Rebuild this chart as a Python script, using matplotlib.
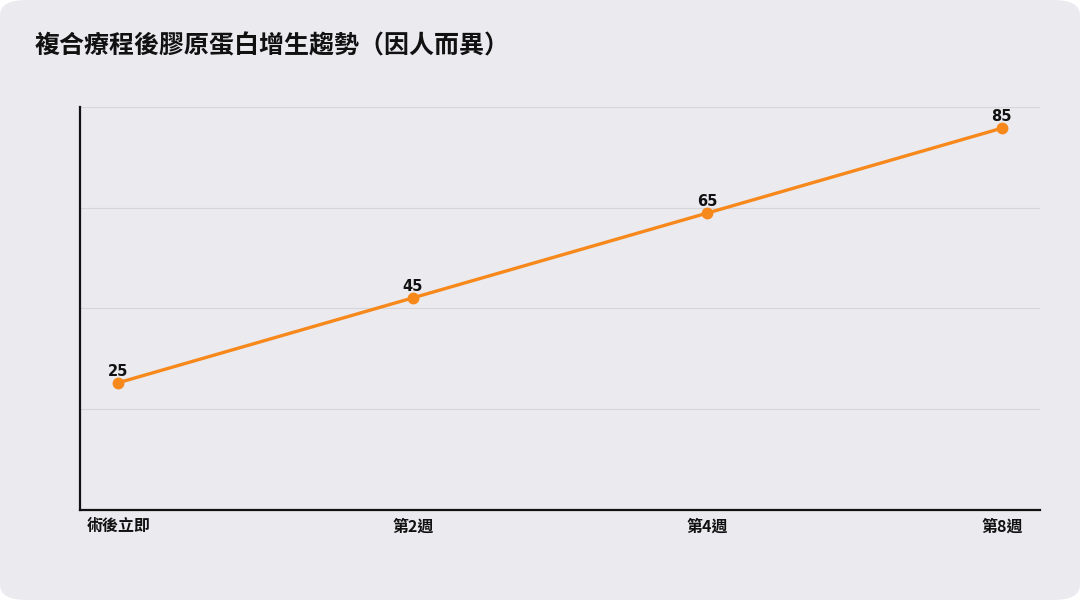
import matplotlib.pyplot as plt
import numpy as np
from matplotlib.patches import FancyBboxPatch

plt.rcParams['font.family'] = ['Noto Sans CJK TC', 'DejaVu Sans']

# data
stages = ["術後立即", "第2週", "第4週", "第8週"]
collagen = [25, 45, 65, 85]

bg = "#ebeaef"
orange = "#f7891c"

fig = plt.figure(figsize=(10.8, 6), dpi=100)
fig.patch.set_facecolor("white")
# rounded card behind everything
card = FancyBboxPatch((0.0, 0.0), 1.0, 1.0, boxstyle="round,pad=0,rounding_size=0.025",
                      transform=fig.transFigure, facecolor=bg, edgecolor="none", zorder=-10)
fig.patches.append(card)

ax = fig.add_axes([0.0741, 0.15, 0.889, 0.6717])
ax.set_facecolor(bg)

xs = np.arange(len(stages))
ax.plot(xs, collagen, color=orange, lw=2.4, marker="o", ms=7.5, zorder=3)
for x, v in zip(xs, collagen):
    ax.annotate(str(v), (x, v), xytext=(0, 3), textcoords="offset points",
                ha="center", va="bottom", fontsize=10.5, fontweight="bold",
                color="#111111", family="DejaVu Sans")

ax.set_xlim(-0.13, len(stages) - 1 + 0.13)
ax.set_ylim(-5, 90)
ax.set_yticks(np.linspace(-5, 90, 5))
ax.set_yticklabels([])
ax.tick_params(axis="y", length=0)
ax.set_xticks(xs)
ax.set_xticklabels(stages, fontsize=11.5, fontweight="bold", color="#111111")
ax.tick_params(axis="x", length=0, pad=6)
ax.grid(axis="y", color="#d6d6da", lw=0.8)
ax.set_axisbelow(True)

for s in ["top", "right"]:
    ax.spines[s].set_visible(False)
for s in ["left", "bottom"]:
    ax.spines[s].set_color("#111111")
    ax.spines[s].set_linewidth(1.6)

fig.text(0.032, 0.922, "複合療程後膠原蛋白增生趨勢（因人而異）", fontsize=18,
         fontweight="bold", color="#111111", ha="left", va="center")

fig.savefig("out.png", dpi=100, facecolor=fig.get_facecolor())
